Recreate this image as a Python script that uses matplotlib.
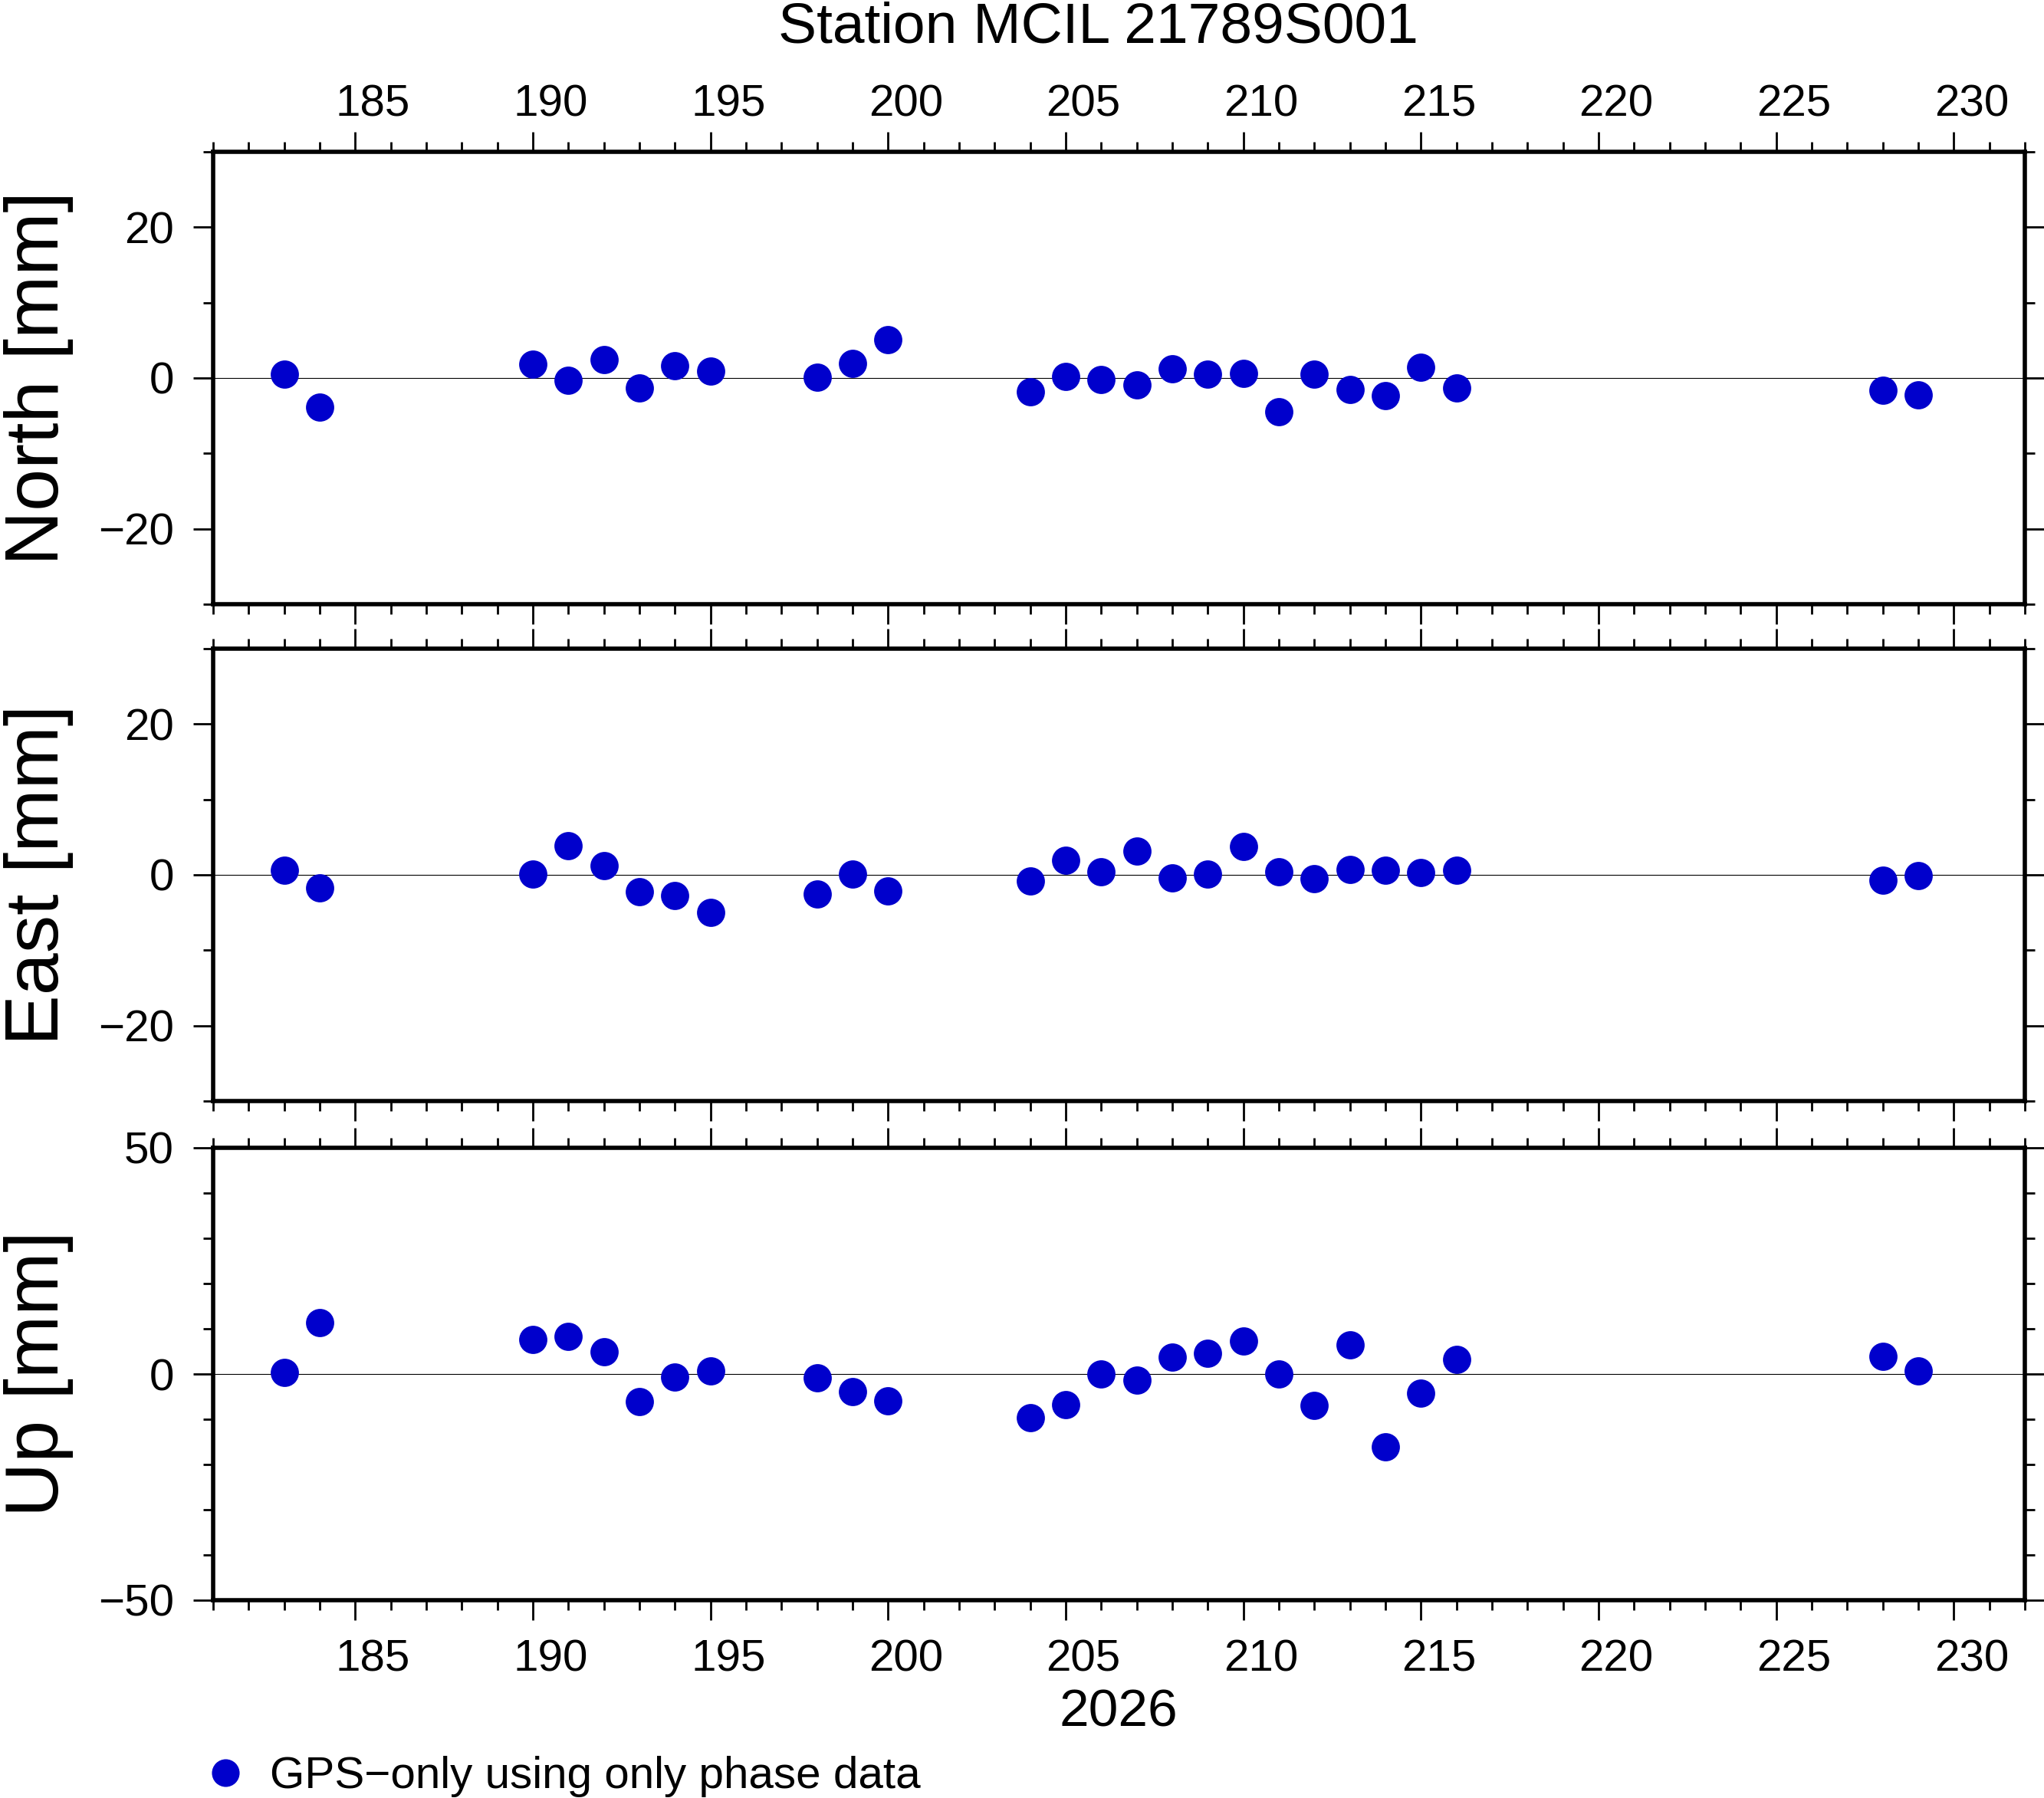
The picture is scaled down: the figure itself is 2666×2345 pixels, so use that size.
import matplotlib
matplotlib.use("Agg")
import matplotlib.pyplot as plt
from matplotlib.lines import Line2D
from matplotlib.ticker import MultipleLocator, NullLocator

plt.rcParams['font.family'] = ['Liberation Sans', 'DejaVu Sans']

station = "Station MCIL 21789S001"
year = "2026"
legend_label = "GPS\u2212only using only phase data"
dot_color = "#0000cc"

# day of year of each daily solution
days = [183, 184, 190, 191, 192, 193, 194, 195, 198, 199, 200,
        204, 205, 206, 207, 208, 209, 210, 211, 212, 213, 214, 215, 216,
        228, 229]

# residuals in mm
north = [0.5, -3.9, 1.8, -0.3, 2.4, -1.3, 1.6, 0.9, 0.1, 1.9, 5.1,
         -1.8, 0.2, -0.2, -0.9, 1.2, 0.5, 0.6, -4.5, 0.5, -1.5, -2.3, 1.4, -1.3,
         -1.6, -2.2]
east = [0.6, -1.7, 0.1, 3.9, 1.2, -2.2, -2.7, -5.0, -2.5, 0.1, -2.1,
        -0.8, 1.9, 0.4, 3.2, -0.4, 0.1, 3.8, 0.4, -0.5, 0.7, 0.6, 0.3, 0.6,
        -0.7, -0.1]
up = [0.4, 11.4, 7.6, 8.3, 4.9, -6.1, -0.6, 0.7, -0.8, -3.9, -5.9,
      -9.7, -6.8, 0.0, -1.4, 3.7, 4.6, 7.3, 0.0, -7.0, 6.4, -16.1, -4.2, 3.2,
      3.9, 0.7]

label_days = list(range(185, 231, 5))

panels = [
    ("North [mm]", north, 30, 20),
    ("East [mm]", east, 30, 20),
    ("Up [mm]", up, 50, 50),
]

W, H = 2666, 2345
fig = plt.figure(figsize=(W / 100, H / 100), dpi=100)

left = 278 / W
width = (2641 - 278) / W
height = 590 / H
tops = [198, 846, 1497]


def day_labels(ax, side, pad):
    # day labels sit in the middle of each day, GMT style
    sec = ax.secondary_xaxis(side)
    sec.set_xticks([d + 0.5 for d in label_days], [str(d) for d in label_days])
    sec.xaxis.set_minor_locator(NullLocator())
    sec.tick_params(length=0, labelsize=42, pad=pad)
    sec.spines[side].set_visible(False)


for i, (label, vals, lim, major) in enumerate(panels):
    top = tops[i]
    ax = fig.add_axes([left, 1 - (top + 590) / H, width, height])
    ax.axhline(0, color="black", lw=0.8, zorder=1)
    ax.plot(days, vals, "o", color=dot_color, ms=26.5, mew=0, zorder=3)

    ax.set_xlim(181, 232)
    ax.set_ylim(-lim, lim)
    ax.xaxis.set_major_locator(MultipleLocator(5))
    ax.xaxis.set_minor_locator(MultipleLocator(1))
    ax.yaxis.set_major_locator(MultipleLocator(major))
    ax.yaxis.set_minor_locator(MultipleLocator(10))

    ax.tick_params(which="both", direction="out", top=True, right=True,
                   labelbottom=False, labeltop=False, width=2, color="black")
    ax.tick_params(which="major", length=18.7)
    ax.tick_params(which="minor", length=9.4)
    ax.tick_params(axis="y", labelsize=42, pad=18)
    for sp in ax.spines.values():
        sp.set_linewidth(4)

    fig.text(96 / W, 1 - (top + 295) / H, label, rotation=90,
             ha="right", va="center", fontsize=71)

    if i == 0:
        day_labels(ax, "top", 25)
    if i == 2:
        day_labels(ax, "bottom", 36)

fig.text(1432 / W, 1 - 56 / H, station, ha="center", va="baseline", fontsize=54)
fig.text(1459 / W, 1 - 2251 / H, year, ha="center", va="baseline", fontsize=50)

handle = Line2D([], [], marker="o", ls="", color=dot_color, ms=26, mew=0)
fig.legend(handles=[handle], labels=[legend_label], loc="center left",
           bbox_to_anchor=(265 / W, 1 - 2317 / H), frameon=False, fontsize=42,
           borderpad=0, borderaxespad=0, handlelength=1.0, handletextpad=0.5)

fig.savefig("out.png", dpi=100)
